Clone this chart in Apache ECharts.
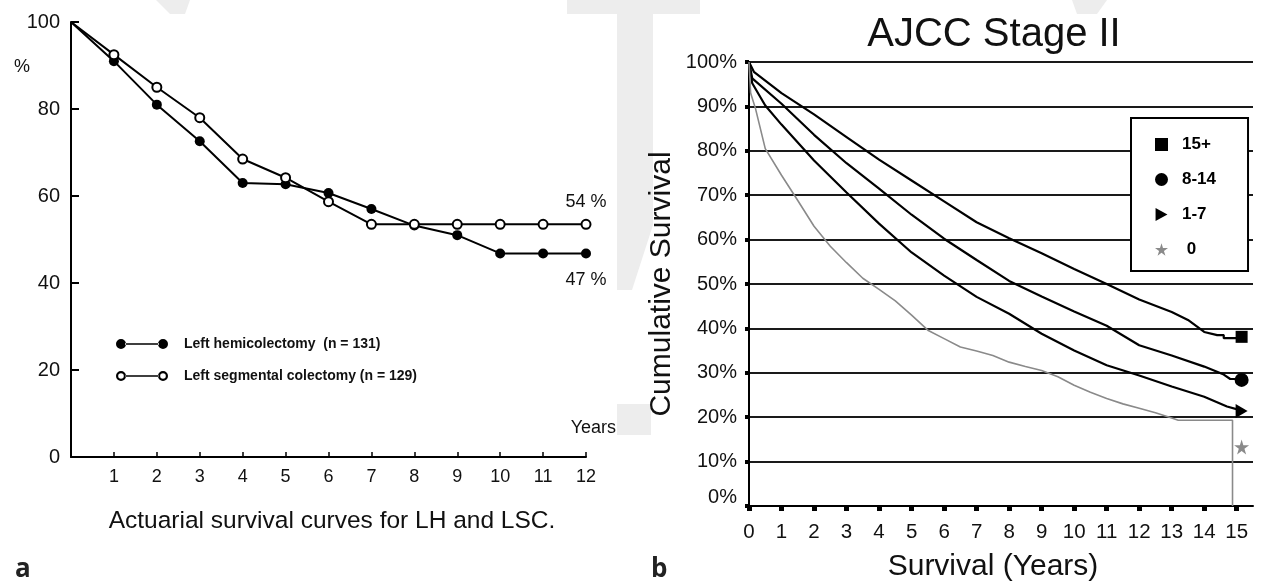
<!DOCTYPE html>
<html>
<head>
<meta charset="utf-8">
<title>Survival curves</title>
<script src="https://cdn.jsdelivr.net/npm/echarts@6/dist/echarts.min.js"></script>
<style>
  html, body { margin: 0; padding: 0; background: #fff; }
  #chart { width: 1263px; height: 582px; }
</style>
</head>
<body>
<div id="chart"></div>
<script>
// ---- panel a: actuarial survival (%) by year ----
const years = [0, 1, 2, 3, 4, 5, 6, 7, 8, 9, 10, 11, 12]
const lhSurvival = [100, 91, 81, 72.6, 63, 62.7, 60.7, 57, 53.2, 51, 46.8, 46.8, 46.8]
const lscSurvival = [100, 92.5, 85, 78, 68.5, 64.2, 58.7, 53.5, 53.5, 53.5, 53.5, 53.5, 53.5]
const lhName = 'Left hemicolectomy  (n = 131)'
const lscName = 'Left segmental colectomy (n = 129)'

// ---- panel b: AJCC stage II, cumulative survival (%) by years ----
const t15 = [0, 0.15, 1, 2, 3, 4, 5, 6, 7, 8, 9, 10, 11, 12, 13, 13.5, 14, 14.4, 14.6, 14.6, 15.1]
const v15 = [100, 97.8, 93.0, 88.2, 83.1, 78.0, 73.3, 68.6, 63.9, 60.3, 56.9, 53.4, 50.0, 46.5, 43.7, 41.9, 39.2, 38.5, 38.5, 37.8, 37.8]
const t8 = [0, 0.1, 1, 2, 3, 4, 5, 6, 7, 8, 9, 10, 11, 12, 13, 14, 14.6, 14.8, 15.1]
const v8 = [100, 96.3, 90.6, 83.6, 77.2, 71.5, 65.6, 60.2, 55.4, 50.7, 47.2, 43.8, 40.6, 36.2, 33.9, 31.4, 29.6, 28.6, 28.6]
const t1 = [0, 0.1, 0.5, 1, 2, 3, 4, 5, 6, 7, 8, 9, 10, 11, 12, 13, 14, 14.7, 15.1]
const v1 = [100, 95.2, 90.2, 85.9, 77.8, 70.6, 63.6, 57.1, 51.9, 47.1, 43.3, 38.8, 35.0, 31.7, 29.4, 26.9, 24.6, 22.4, 21.6]
const t0 = [0, 0.05, 0.2, 0.5, 1, 1.5, 2, 2.5, 3, 3.5, 4, 4.5, 5, 5.5, 6, 6.5, 7, 7.5, 8, 8.5, 9, 9.5, 10, 10.5, 11, 11.5, 12, 12.5, 13, 13.2, 14.87, 14.87]
const v0 = [100, 93, 89.5, 80.5, 74.5, 68.8, 63.0, 58.5, 54.8, 51.3, 48.8, 46.2, 43.0, 39.6, 37.7, 35.8, 34.9, 33.9, 32.4, 31.4, 30.5, 29.1, 27.2, 25.6, 24.2, 23.0, 22.0, 21.0, 19.8, 19.3, 19.3, 0]
const groupNames = ['15+', '8-14', '1-7', '0']
const endYear = 15.15
const endValues = [38.1, 28.4, 21.4, 13.3]
const yearTicks = [0, 1, 2, 3, 4, 5, 6, 7, 8, 9, 10, 11, 12, 13, 14, 15]

const pairs = (xs, ys) => xs.map((x, i) => [x, ys[i]])

const starPath = 'path://M50,0L61,35L98,35L68,57L79,91L50,70L21,91L32,57L2,35L39,35Z'
const triPath = 'path://M0,0L11,6L0,12Z'
const filledPair = 'path://M0,5A5,5,0,1,0,10,5A5,5,0,1,0,0,5Z M9,4.3L43,4.3L43,5.7L9,5.7Z M42,5A5,5,0,1,0,52,5A5,5,0,1,0,42,5Z'
const openPair = 'path://M0,5A5,5,0,1,0,10,5A5,5,0,1,0,0,5Z M2.2,5A2.8,2.8,0,1,1,7.8,5A2.8,2.8,0,1,1,2.2,5Z M9.5,4.3L42.5,4.3L42.5,5.7L9.5,5.7Z M42,5A5,5,0,1,0,52,5A5,5,0,1,0,42,5Z M44.2,5A2.8,2.8,0,1,1,49.8,5A2.8,2.8,0,1,1,44.2,5Z'

const groupSymbols = ['rect', 'circle', triPath, starPath]
const groupSizes = [12, 14, [12, 14], 15]
const groupColors = ['#000', '#000', '#000', '#8a8a8a']
const groupCurves = [pairs(t15, v15), pairs(t8, v8), pairs(t1, v1), pairs(t0, v0)]

const font = 'Liberation Sans, Arial, sans-serif'
const chart = echarts.init(document.getElementById('chart'))

// end label on the last point of panel a, e.g. "54 %"
const withEndLabel = (data, pos, dist) => data.map((d, i) => i === data.length - 1
  ? { value: d, label: { show: true, position: pos, distance: dist, fontSize: 18, color: '#111', fontFamily: font,
      formatter: p => Math.round(p.value[1]) + ' %' } }
  : d)

const lhPoints = pairs(years, lhSurvival).slice(1)
const lscPoints = pairs(years, lscSurvival).slice(1)

const series = [
  // markers first so the legends pick their icons
  { name: lhName, type: 'scatter', xAxisIndex: 0, yAxisIndex: 0, z: 4, symbol: 'circle', symbolSize: 10,
    itemStyle: { color: '#000', opacity: 1 }, data: withEndLabel(lhPoints, 'bottom', 13) },
  { name: lscName, type: 'scatter', xAxisIndex: 0, yAxisIndex: 0, z: 4, symbol: 'circle', symbolSize: 9,
    itemStyle: { color: '#fff', borderColor: '#000', borderWidth: 2, opacity: 1 }, data: withEndLabel(lscPoints, 'top', 8) },
]
groupNames.forEach((name, i) => {
  series.push({ name, type: 'scatter', xAxisIndex: 1, yAxisIndex: 1, z: 4, symbol: groupSymbols[i],
    symbolSize: groupSizes[i], itemStyle: { color: groupColors[i], opacity: 1 }, data: [[endYear, endValues[i]]] })
})
series.push(
  { name: lhName, type: 'line', xAxisIndex: 0, yAxisIndex: 0, showSymbol: false, symbol: 'none',
    lineStyle: { color: '#000', width: 2 }, data: pairs(years, lhSurvival) },
  { name: lscName, type: 'line', xAxisIndex: 0, yAxisIndex: 0, showSymbol: false, symbol: 'none',
    lineStyle: { color: '#000', width: 2 }, data: pairs(years, lscSurvival) }
)
groupNames.forEach((name, i) => {
  series.push({ name, type: 'line', xAxisIndex: 1, yAxisIndex: 1, showSymbol: false, symbol: 'none',
    lineStyle: { color: groupColors[i], width: i === 3 ? 1.6 : 2.2 }, data: groupCurves[i] })
})

const wm = '#ededed'
const option = {
  animation: false,
  backgroundColor: '#fff',
  textStyle: { fontFamily: font },
  graphic: [
    { type: 'polygon', z: -1, shape: { points: [[156, 0], [190, 0], [185, 14], [170, 14]] }, style: { fill: wm } },
    { type: 'polygon', z: -1, shape: { points: [[567, 0], [700, 0], [700, 14], [653, 14], [653, 225], [632, 290], [617, 290], [617, 14], [567, 14]] }, style: { fill: wm } },
    { type: 'rect', z: -1, shape: { x: 617, y: 404, width: 34, height: 31 }, style: { fill: wm } },
    { type: 'polygon', z: -1, shape: { points: [[1072, 0], [1107, 0], [1097, 14], [1077, 14]] }, style: { fill: wm } },
  ],
  title: [
    { text: 'AJCC Stage II', left: 989, top: 10, textAlign: 'center',
      textStyle: { fontSize: 40, fontWeight: 'normal', color: '#111', fontFamily: font } },
    { text: 'Actuarial survival curves for LH and LSC.', left: 327, top: 504, textAlign: 'center',
      textStyle: { fontSize: 24.5, fontWeight: 'normal', color: '#111', fontFamily: font } },
    { text: '%', left: 9, top: 53, textStyle: { fontSize: 18, fontWeight: 'normal', color: '#111', fontFamily: font } },
    { text: 'a', left: 10, top: 552, textStyle: { fontSize: 26, fontWeight: 'bold', color: '#222', fontFamily: 'Open Sans' } },
    { text: 'b', left: 646, top: 552, textStyle: { fontSize: 26, fontWeight: 'bold', color: '#222', fontFamily: 'Open Sans' } },
  ],
  legend: [
    { left: 116, top: 337, padding: 0, orient: 'vertical', itemWidth: 52, itemHeight: 11, itemGap: 18,
      data: [{ name: lhName, icon: filledPair, itemStyle: { color: '#000', borderWidth: 0 } },
             { name: lscName, icon: openPair, itemStyle: { color: '#000', borderWidth: 0 } }],
      textStyle: { fontSize: 14, fontWeight: 'bold', color: '#111', lineHeight: 14, padding: [0, 0, 0, 11], fontFamily: font } },
    { left: 1131, top: 118, orient: 'vertical', itemWidth: 13, itemHeight: 13, itemGap: 18,
      padding: [18, 32, 13, 24], borderColor: '#000', borderWidth: 2, backgroundColor: '#fff',
      data: groupNames.map((name, i) => ({ name, icon: groupSymbols[i] })),
      formatter: name => (name === '0' ? ' ' + name : name),
      textStyle: { fontSize: 17, fontWeight: 'bold', color: '#000', lineHeight: 14, padding: [0, 0, 0, 9], fontFamily: font } },
  ],
  grid: [
    { left: 71, top: 22, width: 515, height: 435, outerBoundsMode: 'none' },
    { left: 749, top: 62, width: 504, height: 444, outerBoundsMode: 'none' },
  ],
  xAxis: [
    { gridIndex: 0, type: 'value', min: 0, max: 12, interval: 1,
      name: 'Years', nameLocation: 'end', nameGap: 30,
      nameTextStyle: { fontSize: 18, color: '#111', align: 'right', verticalAlign: 'bottom', padding: [0, 0, 20, 0] },
      axisLine: { lineStyle: { color: '#000', width: 2 } },
      axisTick: { inside: true, length: 5, lineStyle: { color: '#000', width: 1.5 } },
      axisLabel: { showMinLabel: false, fontSize: 18, color: '#111', margin: 11 },
      splitLine: { show: false } },
    { gridIndex: 1, type: 'value', min: 0, max: 15.5, interval: 1,
      name: 'Survival (Years)', nameLocation: 'middle', nameGap: 46,
      nameTextStyle: { fontSize: 30, color: '#111', padding: [0, 16, 0, 0] },
      axisLine: { lineStyle: { color: '#000', width: 2 } },
      axisTick: { customValues: yearTicks, length: 5, lineStyle: { color: '#000', width: 5 } },
      axisLabel: { customValues: yearTicks, fontSize: 20.5, color: '#111', margin: 16 },
      splitLine: { show: false } },
  ],
  yAxis: [
    { gridIndex: 0, type: 'value', min: 0, max: 100, interval: 20,
      axisLine: { show: true, lineStyle: { color: '#000', width: 2 } },
      axisTick: { show: true, inside: true, length: 8, lineStyle: { color: '#000', width: 2 } },
      axisLabel: { fontSize: 20, color: '#111', margin: 11 },
      splitLine: { show: false } },
    { gridIndex: 1, type: 'value', min: 0, max: 100, interval: 10,
      name: 'Cumulative Survival', nameLocation: 'middle', nameGap: 72,
      nameTextStyle: { fontSize: 30, color: '#111' },
      axisLine: { show: true, lineStyle: { color: '#000', width: 2 } },
      axisTick: { show: true, length: 4, lineStyle: { color: '#000', width: 4 } },
      axisLabel: { fontSize: 20, color: '#111', margin: 12,
        formatter: v => (v === 0 ? '{z|0%}' : v + '%'),
        rich: { z: { fontSize: 20, color: '#111', padding: [0, 0, 18, 0] } } },
      splitLine: { show: true, lineStyle: { color: '#1a1a1a', width: 2 } } },
  ],
  series,
}

chart.setOption(option)
</script>
</body>
</html>
